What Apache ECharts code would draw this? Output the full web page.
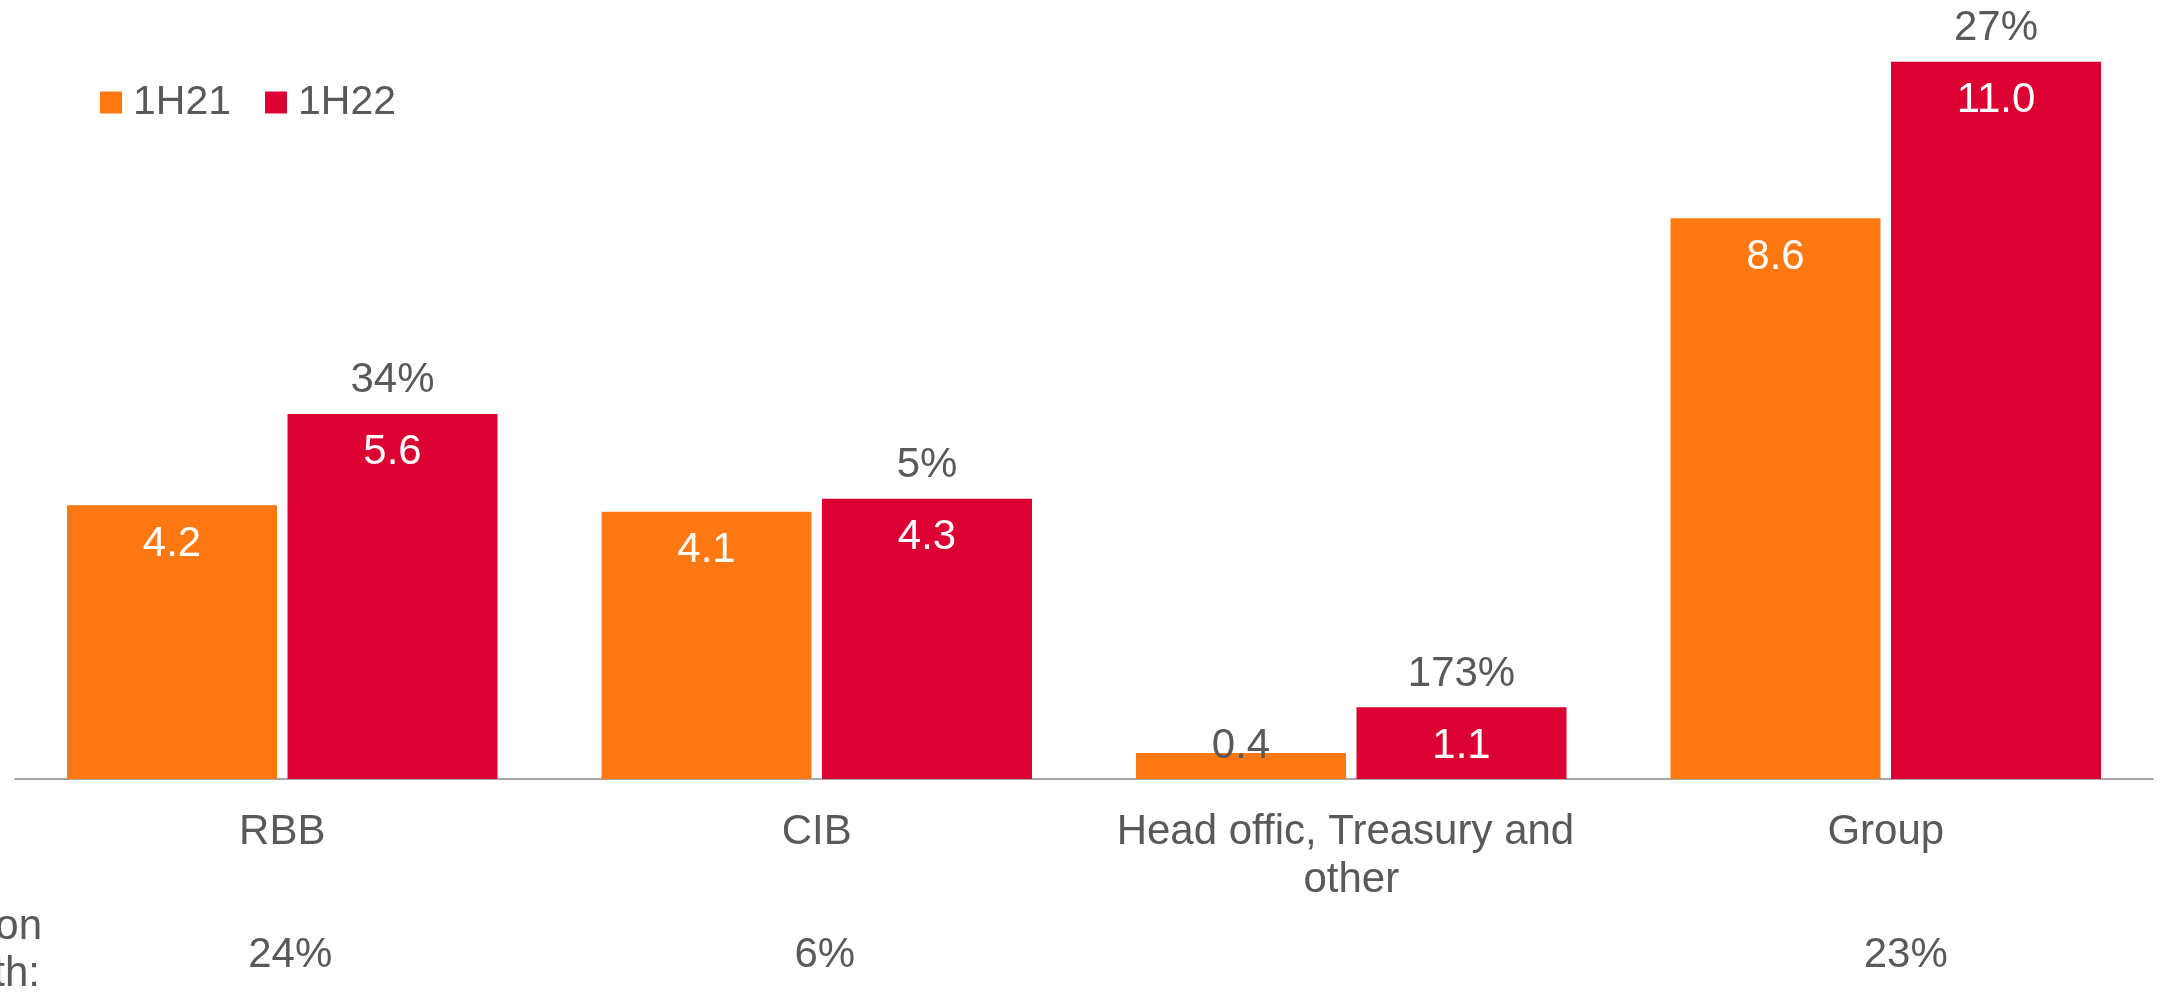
<!DOCTYPE html>
<html>
<head>
<meta charset="utf-8">
<script src="https://cdn.jsdelivr.net/npm/echarts@6/dist/echarts.min.js"></script>
<style>
html,body{margin:0;padding:0;background:#fff;}
#chart{width:2167px;height:996px;}
</style>
</head>
<body>
<div id="chart"></div>
<script>
const categories = ['RBB', 'CIB', 'Head offic, Treasury and other', 'Group'];
const seriesNames = ['1H21', '1H22'];
const values1H21 = [4.2, 4.1, 0.4, 8.6];
const values1H22 = [5.6, 4.3, 1.1, 11.0];
const growthLabels = ['34%', '5%', '173%', '27%'];
const ccyGrowthLabels = ['24%', '6%', '', '23%'];
const sideNoteLines = ['on', 'th:'];

const FONT = "'Liberation Sans', Arial, sans-serif";
const FS = 42;
const TEXT = '#595959';
const ORANGE = '#FF7811';
const RED = '#DC0032';

const chart = echarts.init(document.getElementById('chart'), null, {renderer: 'canvas'});

const orangeData = values1H21.map(function (v) {
  if (v < 1) {
    return {value: v, label: {distance: -27, color: TEXT}};
  }
  return v;
});

chart.setOption({
  animation: false,
  textStyle: {fontFamily: FONT},
  grid: {left: 15, right: 14, top: 29.2, bottom: 217, containLabel: false},
  legend: {
    left: 100, top: 82, padding: 0,
    itemWidth: 22, itemHeight: 22, itemGap: 34, icon: 'rect',
    textStyle: {fontSize: 41, color: TEXT, fontFamily: FONT, lineHeight: 41, padding: [0, 0, 0, 6]},
    data: seriesNames
  },
  xAxis: [{
    type: 'category',
    data: categories,
    axisLine: {show: true, lineStyle: {color: '#A6A6A6', width: 2}},
    axisTick: {show: false},
    axisLabel: {
      fontSize: FS, color: TEXT, fontFamily: FONT, lineHeight: 48,
      margin: 29, width: 500, overflow: 'break', interval: 0
    }
  }, {
    type: 'category',
    data: categories,
    position: 'bottom',
    offset: 145.5,
    axisLine: {show: false},
    axisTick: {show: false},
    axisLabel: {
      fontSize: FS, color: TEXT, fontFamily: FONT, lineHeight: 42,
      margin: 10, interval: 0,
      formatter: function (v, i) {
        if (!ccyGrowthLabels[i]) return '';
        return (i === 3 ? '{r|' : '{l|') + ccyGrowthLabels[i] + '}';
      },
      rich: {
        l: {fontSize: FS, lineHeight: 42, color: TEXT, fontFamily: FONT, padding: [0, 0, 0, 16]},
        r: {fontSize: FS, lineHeight: 42, color: TEXT, fontFamily: FONT, padding: [0, 0, 0, 40]}
      }
    }
  }],
  yAxis: {type: 'value', min: 0, max: 11.5, show: false, splitLine: {show: false}},
  series: [{
    name: seriesNames[0],
    type: 'bar',
    data: orangeData,
    barWidth: 210,
    barGap: '5%',
    itemStyle: {color: ORANGE},
    label: {
      show: true, position: 'insideTop', distance: 18,
      fontSize: FS, lineHeight: 42, color: '#FFFFFF', fontFamily: FONT,
      formatter: function (p) { return p.value.toFixed(1); }
    }
  }, {
    name: seriesNames[1],
    type: 'bar',
    data: values1H22,
    barWidth: 210,
    barGap: '5%',
    itemStyle: {color: RED},
    label: {
      show: true, position: 'insideTop', distance: -54,
      fontFamily: FONT,
      formatter: function (p) {
        return '{g|' + growthLabels[p.dataIndex] + '}\n{v|' + p.value.toFixed(1) + '}';
      },
      rich: {
        g: {fontSize: FS, lineHeight: 42, color: TEXT, fontFamily: FONT},
        v: {fontSize: FS, lineHeight: 102, color: '#FFFFFF', fontFamily: FONT}
      }
    }
  }],
  graphic: [{
    type: 'text', right: 2167 - 42, top: 906,
    style: {text: sideNoteLines[0], font: FS + 'px ' + FONT, fill: TEXT}
  }, {
    type: 'text', right: 2167 - 40, top: 953,
    style: {text: sideNoteLines[1], font: FS + 'px ' + FONT, fill: TEXT}
  }]
});
</script>
</body>
</html>
